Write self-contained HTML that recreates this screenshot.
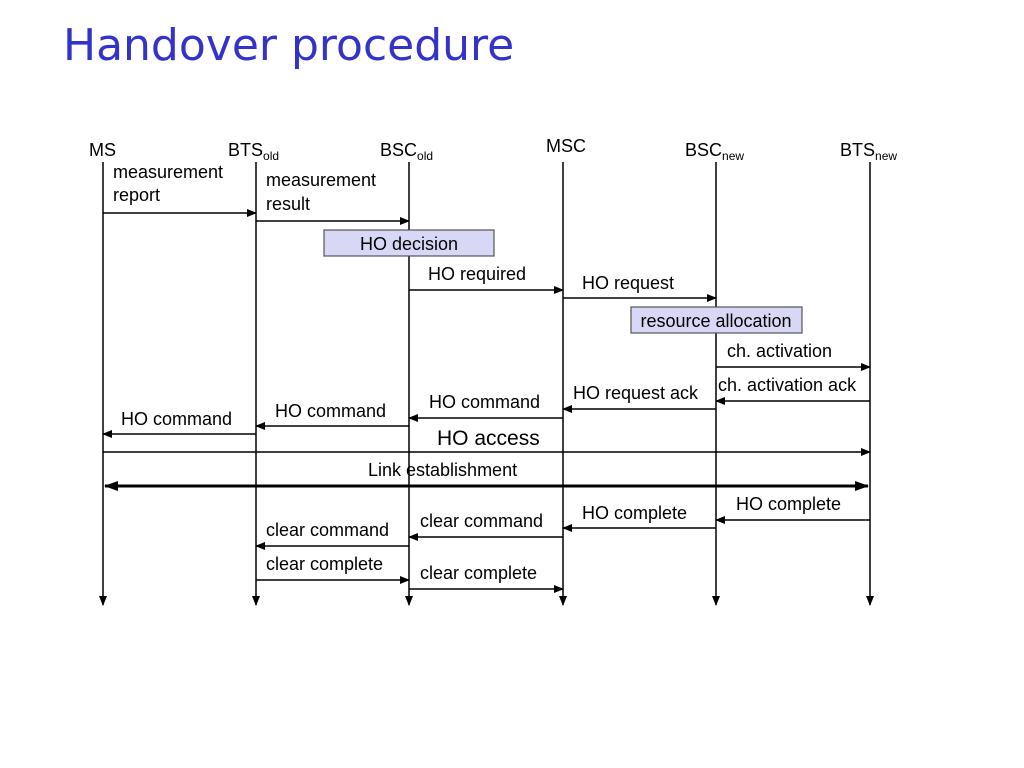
<!DOCTYPE html>
<html><head><meta charset="utf-8"><style>
html,body{margin:0;padding:0;background:#fff;}
svg{display:block}
text{font-family:"Liberation Sans",sans-serif;font-size:18px;fill:#000}
</style></head><body>
<svg width="1024" height="768" viewBox="0 0 1024 768" xmlns="http://www.w3.org/2000/svg">
<defs>
<marker id="a" markerWidth="10" markerHeight="8" refX="9" refY="4" orient="auto" markerUnits="userSpaceOnUse"><path d="M0,0 L10,4 L0,8 z" fill="#000"/></marker>
<marker id="b" markerWidth="14" markerHeight="10" refX="13" refY="5" orient="auto-start-reverse" markerUnits="userSpaceOnUse"><path d="M0,0 L14,5 L0,10 z" fill="#000"/></marker>
</defs>
<text x="63" y="60" style="font-size:44px;fill:#3333cc;font-family:'DejaVu Sans','Liberation Sans',sans-serif">Handover procedure</text>
<g font-size="18">
<text x="89" y="156">MS</text>
<text x="228" y="156">BTS<tspan font-size="12" dy="4">old</tspan></text>
<text x="380" y="156">BSC<tspan font-size="12" dy="4">old</tspan></text>
<text x="546" y="152">MSC</text>
<text x="685" y="156">BSC<tspan font-size="12" dy="4">new</tspan></text>
<text x="840" y="156">BTS<tspan font-size="12" dy="4">new</tspan></text>
</g>
<g stroke="#000" stroke-width="1.5" fill="none">
<line x1="103" y1="162" x2="103" y2="605" marker-end="url(#a)"/>
<line x1="256" y1="162" x2="256" y2="605" marker-end="url(#a)"/>
<line x1="409" y1="162" x2="409" y2="605" marker-end="url(#a)"/>
<line x1="563" y1="162" x2="563" y2="605" marker-end="url(#a)"/>
<line x1="716" y1="162" x2="716" y2="605" marker-end="url(#a)"/>
<line x1="870" y1="162" x2="870" y2="605" marker-end="url(#a)"/>
</g>
<rect x="324" y="230" width="170" height="26" fill="#d8d8f6" stroke="#555" stroke-width="1.2"/>
<text x="409" y="250" text-anchor="middle">HO decision</text>
<rect x="631" y="307" width="171" height="26" fill="#d8d8f6" stroke="#555" stroke-width="1.2"/>
<text x="716" y="327" text-anchor="middle">resource allocation</text>
<g stroke="#000" stroke-width="1.5" marker-end="url(#a)">
<line x1="103" y1="213" x2="256" y2="213"/>
<line x1="256" y1="221" x2="409" y2="221"/>
<line x1="409" y1="290" x2="563" y2="290"/>
<line x1="563" y1="298" x2="716" y2="298"/>
<line x1="716" y1="367" x2="870" y2="367"/>
<line x1="870" y1="401" x2="716" y2="401"/>
<line x1="716" y1="409" x2="563" y2="409"/>
<line x1="563" y1="418" x2="409" y2="418"/>
<line x1="409" y1="426" x2="256" y2="426"/>
<line x1="256" y1="434" x2="103" y2="434"/>
<line x1="103" y1="452" x2="870" y2="452"/>
<line x1="870" y1="520" x2="716" y2="520"/>
<line x1="716" y1="528" x2="563" y2="528"/>
<line x1="563" y1="537" x2="409" y2="537"/>
<line x1="409" y1="546" x2="256" y2="546"/>
<line x1="256" y1="580" x2="409" y2="580"/>
<line x1="409" y1="589" x2="563" y2="589"/>
</g>
<line x1="105" y1="486" x2="868" y2="486" stroke="#000" stroke-width="3" marker-start="url(#b)" marker-end="url(#b)"/>
<text x="113" y="178">measurement</text>
<text x="113" y="201">report</text>
<text x="266" y="186">measurement</text>
<text x="266" y="210">result</text>
<text x="428" y="280">HO required</text>
<text x="582" y="289">HO request</text>
<text x="727" y="357">ch. activation</text>
<text x="718" y="391">ch. activation ack</text>
<text x="573" y="399">HO request ack</text>
<text x="429" y="408">HO command</text>
<text x="275" y="417">HO command</text>
<text x="121" y="425">HO command</text>
<text x="437" y="445" style="font-size:21px">HO access</text>
<text x="368" y="476">Link establishment</text>
<text x="736" y="510">HO complete</text>
<text x="582" y="519">HO complete</text>
<text x="420" y="527">clear command</text>
<text x="266" y="536">clear command</text>
<text x="266" y="570">clear complete</text>
<text x="420" y="579">clear complete</text>
</svg>
</body></html>
